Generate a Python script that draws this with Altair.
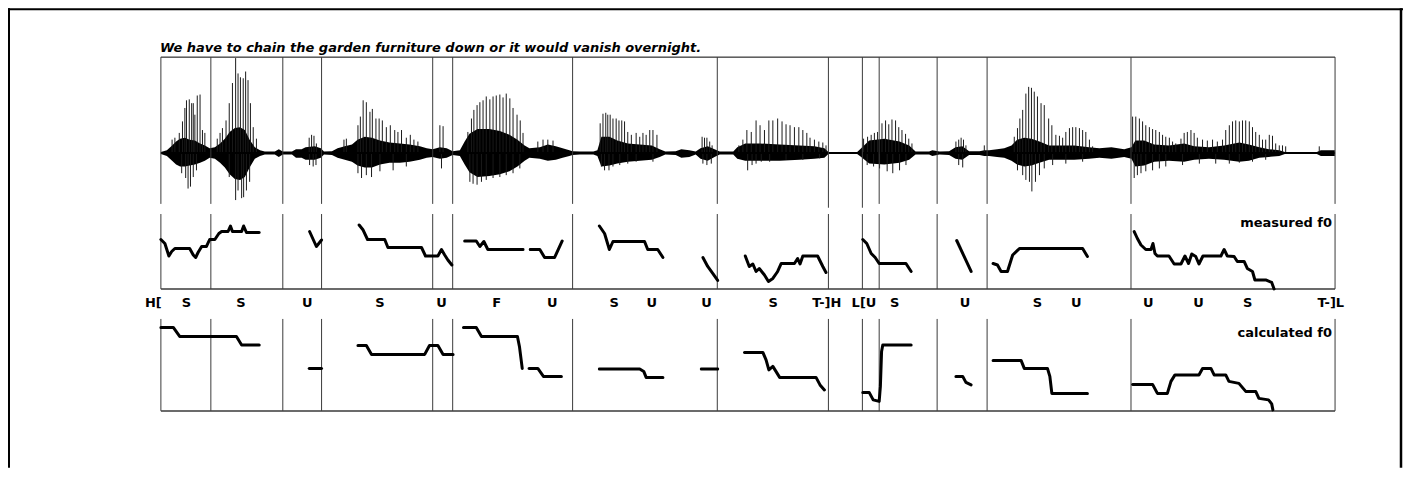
import altair as alt
import pandas as pd

# ---------------- data ----------------
T_END = 2937.5  # ms, whole utterance

title_text = "We have to chain the garden furniture down or it would vanish overnight."

boundary_ms = [0, 125, 305, 402, 680, 730, 1030, 1392, 1670, 1755, 1797, 1942, 2067, 2427, 2937.5]
# lower end of each boundary line in the waveform panel (relative amplitude)
boundary_wave_low = [-0.53, -0.53, -0.53, -0.53, -0.53, -0.53, -0.53, -0.53, -0.57, -0.57,
                     -0.53, -0.53, -0.53, -0.53, -0.53]

label_ms = [-19, 64, 200, 366, 548, 702, 840, 979, 1134, 1228, 1365, 1532, 1666, 1759,
            1836, 2012, 2193, 2290, 2470, 2596, 2719, 2927]
label_txt = ["H[", "S", "S", "U", "S", "U", "F", "U", "S", "U", "U", "S", "T-]H", "L[U",
             "S", "U", "S", "U", "U", "U", "S", "T-]L"]

# waveform: dense core envelope (relative amplitude)
core_ms = [0,15,28,38,48,60,72,85,98,110,122,135,148,160,172,185,198,210,222,235,
           248,260,285,295,305,328,338,352,362,385,400,408,428,442,460,478,492,510,528,548,
           572,598,622,648,665,680,698,715,730,748,760,772,792,822,848,872,892,910,922,948,
           968,988,1005,1022,1030,1048,1082,1092,1102,1122,1142,1168,1198,1228,1248,1262,1288,1302,1322,1338,
           1350,1368,1385,1398,1432,1442,1462,1498,1548,1598,1635,1660,1670,1742,1752,1772,1810,1848,1872,1888,
           1922,1930,1948,1972,1988,2005,2022,2048,2060,2072,2092,2110,2128,2142,2160,2178,2198,2222,2248,2285,
           2322,2348,2378,2410,2428,2438,2460,2485,2522,2560,2585,2622,2660,2698,2722,2748,2772,2798,2812,2892,
           2902,2937]
core_hi = [0.01,0.03,0.08,0.12,0.15,0.16,0.14,0.13,0.10,0.08,0.05,0.06,0.10,0.15,0.22,0.26,0.27,0.24,0.14,0.06,
           0.03,0.015,0.015,0.04,0.015,0.015,0.04,0.04,0.06,0.07,0.05,0.015,0.02,0.05,0.07,0.09,0.14,0.17,0.16,0.13,
           0.11,0.10,0.09,0.07,0.05,0.04,0.06,0.05,0.02,0.03,0.12,0.20,0.25,0.25,0.23,0.19,0.14,0.08,0.05,0.06,
           0.09,0.07,0.05,0.03,0.02,0.015,0.015,0.03,0.17,0.17,0.13,0.10,0.09,0.08,0.04,0.015,0.02,0.04,0.03,0.015,
           0.05,0.07,0.04,0.015,0.015,0.06,0.10,0.10,0.09,0.08,0.07,0.05,0.01,0.01,0.05,0.13,0.15,0.12,0.08,0.015,
           0.015,0.03,0.015,0.02,0.06,0.07,0.02,0.02,0.03,0.03,0.04,0.05,0.08,0.14,0.16,0.15,0.12,0.08,0.08,0.08,
           0.06,0.05,0.06,0.04,0.06,0.13,0.13,0.09,0.08,0.10,0.07,0.06,0.08,0.11,0.09,0.06,0.04,0.03,0.01,0.01,
           0.03,0.03]
core_lo = [-0.01,-0.03,-0.08,-0.12,-0.14,-0.14,-0.13,-0.12,-0.10,-0.08,-0.05,-0.06,-0.10,-0.15,-0.22,-0.27,-0.28,-0.25,-0.15,-0.06,
           -0.03,-0.015,-0.015,-0.04,-0.015,-0.015,-0.05,-0.05,-0.07,-0.07,-0.05,-0.015,-0.02,-0.05,-0.07,-0.09,-0.13,-0.15,-0.15,-0.12,
           -0.10,-0.10,-0.09,-0.07,-0.05,-0.04,-0.06,-0.05,-0.02,-0.03,-0.12,-0.20,-0.25,-0.24,-0.22,-0.19,-0.14,-0.08,-0.05,-0.06,
           -0.08,-0.07,-0.05,-0.03,-0.02,-0.015,-0.015,-0.03,-0.14,-0.13,-0.11,-0.09,-0.08,-0.07,-0.04,-0.015,-0.02,-0.05,-0.04,-0.015,
           -0.06,-0.08,-0.04,-0.015,-0.015,-0.06,-0.08,-0.08,-0.08,-0.07,-0.06,-0.05,-0.01,-0.01,-0.04,-0.11,-0.12,-0.10,-0.07,-0.015,
           -0.015,-0.03,-0.015,-0.02,-0.06,-0.07,-0.02,-0.02,-0.03,-0.03,-0.04,-0.05,-0.08,-0.12,-0.14,-0.13,-0.10,-0.07,-0.07,-0.07,
           -0.06,-0.05,-0.06,-0.04,-0.06,-0.14,-0.13,-0.09,-0.08,-0.09,-0.07,-0.06,-0.07,-0.09,-0.08,-0.05,-0.04,-0.03,-0.01,-0.01,
           -0.03,-0.03]

# waveform: pitch-pulse spikes above the baseline
up_ms = [28,35,46,54,60,64,71,77,81,85,91,98,104,110,
         141,148,154,163,171,179,187,193,199,206,212,218,224,231,239,
         371,377,383,389,
         458,464,493,499,506,514,523,529,538,546,554,564,574,585,593,602,614,624,633,643,698,706,
         768,777,783,791,798,806,814,823,831,839,848,856,864,873,881,891,899,906,943,956,968,981,
         1099,1106,1113,1118,1124,1131,1139,1146,1153,1160,1168,1177,1189,1198,1206,1214,1223,1231,1241,
         1354,1360,1366,1373,1379,
         1446,1456,1466,1477,1489,1499,1510,1521,1531,1543,1554,1564,1574,1585,1596,1606,1616,1624,1635,1646,1656,1664,
         1758,1768,1777,1785,1793,1804,1813,1821,1829,1838,1846,1854,1863,1871,1879,
         1989,1996,2002,2008,2014,2060,
         2135,2143,2149,2156,2164,2171,2178,2185,2193,2202,2210,2221,2229,2239,2248,2256,2264,2273,2281,2289,2298,2306,2314,2323,2331,
         2431,2439,2448,2456,2464,2473,2481,2489,2498,2506,2514,2523,2531,2539,2552,2560,2568,2577,2585,2593,
         2606,2618,2631,2643,2656,2664,2673,2681,2689,2698,2706,2714,2723,2731,2739,2748,2756,2764,2773,2781,
         2789,2798,2806,2814,2898]
up_amp = [0.14,0.16,0.21,0.33,0.47,0.55,0.56,0.52,0.52,0.40,0.60,0.61,0.24,0.21,
          0.15,0.21,0.26,0.34,0.52,0.73,0.99,0.83,0.79,0.78,0.85,0.76,0.52,0.27,0.15,
          0.16,0.19,0.18,0.10,
          0.14,0.15,0.29,0.38,0.55,0.53,0.43,0.46,0.36,0.36,0.34,0.27,0.29,0.24,0.22,0.24,0.16,0.19,0.14,0.12,0.29,0.28,
          0.22,0.36,0.45,0.50,0.53,0.55,0.59,0.56,0.59,0.60,0.61,0.58,0.62,0.57,0.47,0.40,0.34,0.21,0.12,0.14,0.14,0.13,
          0.31,0.41,0.42,0.40,0.40,0.36,0.36,0.34,0.34,0.33,0.22,0.19,0.21,0.17,0.21,0.19,0.24,0.24,0.19,
          0.17,0.16,0.16,0.12,0.08,
          0.08,0.14,0.24,0.22,0.34,0.29,0.24,0.34,0.34,0.36,0.33,0.30,0.29,0.27,0.27,0.24,0.21,0.16,0.14,0.12,0.11,0.08,
          0.15,0.17,0.19,0.21,0.22,0.31,0.34,0.30,0.35,0.34,0.27,0.24,0.20,0.15,0.10,
          0.12,0.14,0.16,0.14,0.08,0.08,
          0.17,0.26,0.36,0.45,0.62,0.69,0.68,0.64,0.59,0.52,0.50,0.36,0.29,0.19,0.18,0.16,0.22,0.26,0.27,0.27,0.26,0.24,0.22,0.14,0.07,
          0.38,0.38,0.36,0.33,0.29,0.27,0.25,0.24,0.22,0.19,0.17,0.16,0.12,0.10,0.15,0.21,0.22,0.24,0.21,0.16,
          0.14,0.13,0.14,0.12,0.14,0.24,0.29,0.33,0.34,0.33,0.34,0.34,0.33,0.27,0.22,0.19,0.14,0.14,0.19,0.18,
          0.10,0.08,0.08,0.07,0.07]

# waveform: spikes below the baseline
dn_ms = [52,62,68,74,81,89, 171,187,193,202,207,214,222, 372,381,388,
         493,502,514,527,548,581,614,702, 773,781,791,802,814,831,848,864,881,898,
         1102,1110,1121,1131,1148,1168,1189,1231, 1356,1366,1377,
         1468,1479,1489,1502,1523,1564,1606,1648, 1767,1783,1798,1817,1831,1848,1864,
         1996,2006, 2143,2156,2164,2173,2179,2188,2198,2210,2231,2264,2306,
         2435,2443,2452,2464,2481,2498,2514,2556,2598,2639,2673,2698,2731,2764]
dn_amp = [-0.21,-0.26,-0.37,-0.35,-0.25,-0.18, -0.25,-0.49,-0.39,-0.47,-0.46,-0.39,-0.30, -0.125,-0.14,-0.125,
          -0.21,-0.26,-0.23,-0.25,-0.19,-0.18,-0.14,-0.16, -0.30,-0.32,-0.33,-0.30,-0.28,-0.26,-0.25,-0.23,-0.21,-0.16,
          -0.14,-0.18,-0.18,-0.14,-0.125,-0.11,-0.09,-0.09, -0.11,-0.125,-0.11,
          -0.18,-0.125,-0.11,-0.09,-0.09,-0.07,-0.07,-0.055, -0.125,-0.14,-0.16,-0.19,-0.21,-0.18,-0.125,
          -0.125,-0.15, -0.18,-0.23,-0.28,-0.30,-0.40,-0.30,-0.23,-0.16,-0.125,-0.11,-0.09,
          -0.26,-0.23,-0.21,-0.19,-0.18,-0.16,-0.14,-0.125,-0.11,-0.11,-0.11,-0.10,-0.09,-0.07]

# measured f0 (Hz), one contour per voiced stretch
measured = {
    "m1": ([0,10,20,27,35,72,81,87,93,102,114,122,135,145,152,168,174,179,202,207,214,246],
           [174,166,141,150,156,156,143,138,148,160,160,174,174,186,190,190,201,190,190,201,188,188]),
    "m2": ([372,389,402], [190,160,173]),
    "m3": ([496,506,517,560,568,652,662,693,702,710,718,728],
           [203,193,174,174,158,158,141,141,154,143,133,123]),
    "m4": ([760,789,798,808,818,906], [171,171,160,170,154,154]),
    "m5": ([924,948,960,985,1004], [154,154,138,138,171]),
    "m6": ([1097,1110,1122,1131,1210,1218,1243,1256], [201,186,154,170,170,154,154,138]),
    "m7": ([1356,1368,1377,1385,1393], [138,120,110,101,92]),
    "m8": ([1462,1472,1481,1489,1497,1510,1520,1531,1543,1552,1585,1593,1599,1606,1643,1656,1664],
           [141,120,125,110,116,103,90,96,110,126,126,136,125,141,141,120,108]),
    "m9": ([1756,1766,1777,1787,1797,1864,1877], [174,166,146,138,126,126,110]),
    "m10": ([1991,2027], [172,110]),
    "m11": ([2082,2093,2102,2118,2127,2131,2148,2306,2318], [126,123,110,110,133,143,156,156,140]),
    "m12": ([2435,2443,2452,2464,2477,2482,2487,2493,2522,2535,2552,2562,2571,2579,2589,2597,2607,2652,
             2660,2668,2685,2693,2710,2718,2731,2737,2764,2779,2785],
            [190,176,163,154,154,166,146,141,141,125,125,141,126,145,140,125,141,141,
             154,141,140,130,130,116,110,93,93,88,75]),
}

# calculated f0 (Hz)
calculated = {
    "c1": ([0,31,47,189,202,246], [242,242,224,224,207,207]),
    "c2": ([371,402], [160,160]),
    "c3": ([493,514,527,660,672,693,706,731], [206,206,188,188,206,206,188,188]),
    "c4": ([757,789,802,892,897,904], [242,242,224,224,204,160]),
    "c5": ([921,943,957,1002], [160,160,144,144]),
    "c6": ([1097,1198,1208,1214,1256], [159,159,154,142,142]),
    "c7": ([1352,1393], [159,159]),
    "c8": ([1460,1506,1514,1521,1531,1548,1639,1649,1660], [192,192,177,157,164,142,142,127,117]),
    "c9": ([1756,1772,1782,1797,1800,1803,1806,1877], [112,112,97,94,124,194,207,207]),
    "c10": ([1989,2006,2014,2027], [144,144,132,127]),
    "c11": ([2082,2152,2160,2218,2224,2229,2318], [176,176,160,160,144,110,110]),
    "c12": ([2431,2481,2493,2518,2527,2537,2597,2606,2627,2635,2664,2672,2697,2714,2739,2747,2771,2779,2782],
            [128,128,110,110,134,147,147,160,160,147,147,134,130,114,114,100,97,89,77]),
}

# ---------------- tables ----------------
def contour_df(d):
    rows = []
    for seg, (ts, hz) in d.items():
        assert len(ts) == len(hz)
        for t, h in zip(ts, hz):
            rows.append({"t": t, "hz": h, "seg": seg})
    return pd.DataFrame(rows)

core_df = pd.DataFrame({"t": core_ms, "hi": core_hi, "lo": core_lo})
up_df = pd.DataFrame({"t": up_ms, "a": up_amp, "z": 0.0})
dn_df = pd.DataFrame({"t": dn_ms, "a": dn_amp, "z": 0.0})
bnd_df = pd.DataFrame({"t": boundary_ms, "top": 1.0, "low": boundary_wave_low})
span_df = pd.DataFrame({"t0": [0.0], "t1": [T_END], "z": [0.0]})
lab_df = pd.DataFrame({"t": label_ms, "txt": label_txt})
mf0_df = contour_df(measured)
cf0_df = contour_df(calculated)
one = pd.DataFrame({"k": [0]})

# ---------------- scales ----------------
xs = alt.Scale(domain=[0, T_END], range=[153, 1328], nice=False, zero=False)
amp_s = alt.Scale(domain=[-1, 1], range=[241, 49], nice=False, zero=False)
mf0_s = alt.Scale(domain=[75, 225], range=[281, 206], nice=False, zero=False)
cf0_s = alt.Scale(domain=[75, 259], range=[403, 311], nice=False, zero=False)

def X(f):
    return alt.X(f, type="quantitative", scale=xs, axis=None)

FONT = "DejaVu Sans"
LINE_C = "#3a3a3a"

# waveform
core = alt.Chart(core_df).mark_area(color="black", interpolate="linear").encode(
    x=X("t"), y=alt.Y("hi:Q", scale=amp_s, axis=None), y2="lo:Q")
ups = alt.Chart(up_df).mark_rule(color="#1a1a1a", strokeWidth=1).encode(
    x=X("t"), y=alt.Y("a:Q", scale=amp_s, axis=None), y2="z:Q")
dns = alt.Chart(dn_df).mark_rule(color="#1a1a1a", strokeWidth=1).encode(
    x=X("t"), y=alt.Y("a:Q", scale=amp_s, axis=None), y2="z:Q")
base = alt.Chart(span_df).mark_rule(color="black", strokeWidth=2).encode(
    x=X("t0"), x2="t1:Q", y=alt.Y("z:Q", scale=amp_s, axis=None))

# panel frames
wave_top = alt.Chart(span_df).mark_rule(color="black", strokeWidth=1).encode(
    x=X("t0"), x2="t1:Q", y=alt.value(49))
mf0_bot = alt.Chart(span_df).mark_rule(color=LINE_C, strokeWidth=1.5).encode(
    x=X("t0"), x2="t1:Q", y=alt.value(281))
cf0_bot = alt.Chart(span_df).mark_rule(color=LINE_C, strokeWidth=1.5).encode(
    x=X("t0"), x2="t1:Q", y=alt.value(403))
b_wave = alt.Chart(bnd_df).mark_rule(color=LINE_C, strokeWidth=1).encode(
    x=X("t"), y=alt.Y("top:Q", scale=amp_s, axis=None), y2="low:Q")
b_mf0 = alt.Chart(bnd_df).mark_rule(color=LINE_C, strokeWidth=1).encode(
    x=X("t"), y=alt.value(206), y2=alt.value(281))
b_cf0 = alt.Chart(bnd_df).mark_rule(color=LINE_C, strokeWidth=1).encode(
    x=X("t"), y=alt.value(311), y2=alt.value(403))

# f0 contours
mline = alt.Chart(mf0_df).mark_line(color="black", strokeWidth=3, strokeJoin="round", strokeCap="round").encode(
    x=X("t"), y=alt.Y("hz:Q", scale=mf0_s, axis=None), detail="seg:N")
cline = alt.Chart(cf0_df).mark_line(color="black", strokeWidth=3, strokeJoin="round", strokeCap="round").encode(
    x=X("t"), y=alt.Y("hz:Q", scale=cf0_s, axis=None), detail="seg:N")

# texts
labels = alt.Chart(lab_df).mark_text(font=FONT, fontWeight="bold", fontSize=13, align="center",
                                     baseline="alphabetic", color="black").encode(
    x=X("t"), y=alt.value(299), text="txt:N")
mtxt = alt.Chart(one).mark_text(font=FONT, fontWeight="bold", fontSize=13, align="right",
                                baseline="alphabetic", color="black").encode(
    x=alt.value(1325), y=alt.value(219), text=alt.value("measured f0"))
ctxt = alt.Chart(one).mark_text(font=FONT, fontWeight="bold", fontSize=13, align="right",
                                baseline="alphabetic", color="black").encode(
    x=alt.value(1325), y=alt.value(329), text=alt.value("calculated f0"))
title = alt.Chart(one).mark_text(font=FONT, fontWeight="bold", fontStyle="italic", fontSize=13,
                                 align="left", baseline="alphabetic", color="black").encode(
    x=alt.value(152), y=alt.value(44), text=alt.value(title_text))

# outer frame (left, top, right)
f_left = alt.Chart(one).mark_rule(color="black", strokeWidth=2).encode(
    x=alt.value(1), y=alt.value(0), y2=alt.value(460))
f_top = alt.Chart(one).mark_rule(color="black", strokeWidth=2).encode(
    x=alt.value(0), x2=alt.value(1396), y=alt.value(1))
f_right = alt.Chart(one).mark_rule(color="black", strokeWidth=2.5).encode(
    x=alt.value(1394), y=alt.value(0), y2=alt.value(460))

chart = alt.layer(
    core, ups, dns, base, wave_top, b_wave, b_mf0, b_cf0, mf0_bot, cf0_bot,
    mline, cline, labels, mtxt, ctxt, title, f_left, f_top, f_right
).resolve_scale(y="independent").properties(
    width=1396, height=460, padding=0,
    autosize=alt.AutoSizeParams(type="none"),
    background="white",
).configure_view(stroke=None)

chart.save("out.html", embed_options={"renderer": "svg", "actions": False})
